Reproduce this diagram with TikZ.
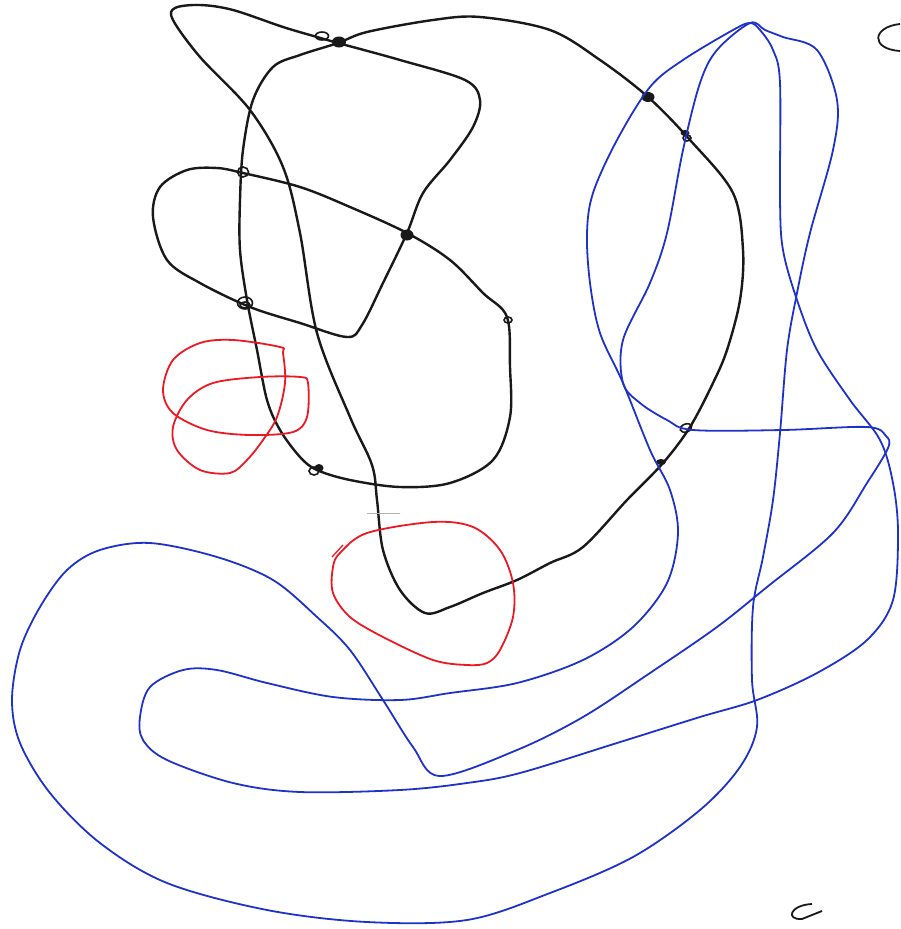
\documentclass[tikz,border=0pt]{standalone}
\usepackage{xcolor}
\usepackage{tikz}
\usetikzlibrary{shapes.geometric}
\definecolor{penna}{RGB}{25,25,25}
\definecolor{penblu}{RGB}{30,50,200}
\definecolor{penrosso}{RGB}{235,25,35}
\tikzset{
  lineanera/.style={penna, line width=2.4pt, line join=round},
  lineablu/.style={penblu, line width=1.8pt, line join=round},
  linearossa/.style={penrosso, line width=1.8pt, line join=round},
  punto/.style={ellipse, draw=penna, line width=1.6pt, inner sep=0pt},
  pieno/.style={ellipse, fill=penna, inner sep=0pt}
}
\begin{document}
\begin{tikzpicture}[x=1pt, y=-1pt]
    \useasboundingbox (0,0) rectangle (900,929);

    % Curva nera
    \draw[lineanera] plot[smooth cycle, tension=0.55] coordinates {
      (175,8) (200,5) (233,10) (283,27) (317,37) (338,43) (400,60) (465,80)
      (480,100) (473,127) (450,160) (423,193) (407,233) (383,283) (362,325)
      (347,337) (300,323) (250,307) (200,283) (167,260) (153,217) (160,187)
      (187,170) (217,168) (243,173) (300,187) (350,207) (407,233) (450,260)
      (483,293) (507,317) (510,367) (510,417) (493,460) (450,483) (400,487)
      (350,480) (317,470) (300,457) (280,430) (267,400) (257,350) (247,300)
      (240,250) (240,200) (243,150) (253,100) (273,67) (300,55) (338,43)
      (367,32) (433,20) (480,17) (550,30) (600,60) (648,97) (690,140)
      (733,193) (743,250) (740,300) (727,350) (713,383) (690,427) (663,463)
      (627,500) (583,547) (550,563) (517,580) (483,593) (450,607) (425,613)
      (400,590) (383,550) (377,500) (372,465) (350,417) (317,333) (300,233)
      (283,167) (250,110) (200,57) (173,20)};

    % Incroci
    \node[punto, minimum width=13pt, minimum height=8pt] (i1) at (322,36) {};
    \node[pieno, minimum width=14pt, minimum height=11pt] (i2) at (339,42) {};
    \node[punto, minimum width=11pt, minimum height=10pt] (i3) at (243,172) {};
    \node[pieno, minimum width=13pt, minimum height=11pt] (i4) at (407,235) {};
    \node[punto, minimum width=15pt, minimum height=12pt] (i5) at (245,303) {};
    \node[punto, minimum width=10pt, minimum height=6pt] (i6) at (245,305) {};
    \node[punto, minimum width=8pt, minimum height=6pt] (i7) at (508,320) {};
    \node[punto, minimum width=10pt, minimum height=8pt] (i8) at (314,471) {};
    \node[pieno, minimum width=9pt, minimum height=8pt] (i9) at (319,468) {};
    \node[pieno, minimum width=13pt, minimum height=10pt] (i10) at (648,97) {};
    \node[pieno, minimum width=9pt, minimum height=6pt] (i11) at (685,133) {};
    \node[punto, minimum width=8pt, minimum height=6pt] (i12) at (687,138) {};
    \node[punto, minimum width=12pt, minimum height=8pt, rotate=20] (i13) at (686,428) {};
    \node[pieno, minimum width=10pt, minimum height=6pt] (i14) at (661,462) {};

    % Curve blu
    \draw[lineablu] plot[smooth cycle, tension=0.55] coordinates {
      (750,23) (733,30) (683,60) (650,87) (617,140) (593,193) (587,233)
      (590,283) (600,333) (623,383) (650,450) (670,490) (678,533) (667,583)
      (633,627) (583,660) (517,683) (450,693) (400,700) (333,697) (267,683)
      (217,670) (183,670) (150,687) (140,717) (143,740) (167,760) (233,783)
      (300,792) (400,790) (467,783) (520,773) (617,743) (700,717) (757,700)
      (817,673) (867,640) (893,600) (898,533) (893,483) (880,440) (850,400)
      (817,350) (797,300) (783,250) (780,200) (780,83) (773,50) (760,30)};
    \draw[lineablu] plot[smooth cycle, tension=0.55] coordinates {
      (750,23) (717,50) (700,83) (683,150) (667,233) (650,283) (623,340)
      (623,383) (640,403) (667,420) (693,430) (783,430) (867,427) (886,436)
      (888,448) (867,483) (833,533) (767,587) (717,627) (650,673) (583,717)
      (517,750) (440,776) (413,747) (383,700) (350,650) (317,617) (273,580)
      (217,557) (150,543) (100,550) (67,570) (40,607) (20,650) (12,700)
      (20,743) (50,793) (100,843) (167,883) (267,910) (367,922) (467,920)
      (550,893) (633,857) (700,810) (740,767) (757,727) (752,680) (753,607)
      (763,557) (773,500) (780,433) (787,350) (797,293) (810,233) (833,150)
      (837,100) (817,50) (783,37) (765,30)};

    % Curve rosse
    \draw[linearossa] plot[smooth cycle, tension=0.55] coordinates {
      (280,347) (233,340) (200,343) (173,360) (163,390) (173,413) (207,430)
      (250,435) (293,432) (307,417) (308,383) (300,377) (260,377) (213,383)
      (187,400) (173,427) (177,450) (200,470) (230,473) (247,460) (263,440)
      (277,417) (285,383) (283,353)};
    \draw[linearossa] plot[smooth cycle, tension=0.55] coordinates {
      (340,553) (367,533) (433,522) (473,527) (500,550) (513,583) (513,617)
      (500,650) (487,663) (467,665) (433,660) (383,637) (350,617) (333,593)
      (333,567)};
    \draw[linearossa, line width=1.3pt] (332,557) -- (343,545);

    % Segni
    \draw[penna, line width=1.8pt] (900,24) .. controls (872,27) and (870,49) .. (900,51);
    \draw[penna, line width=1.8pt] (812,904) .. controls (790,905) and (785,920) .. (802,919) -- (822,911);
    \draw[gray!60, line width=1pt] (367,513) -- (400,513);
\end{tikzpicture}
\end{document}
